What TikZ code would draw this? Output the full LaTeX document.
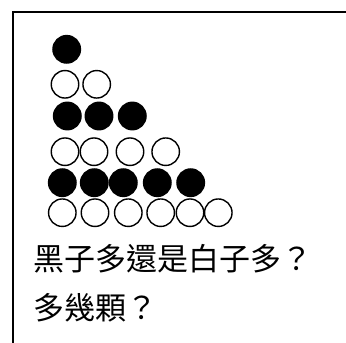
\documentclass[tikz,border=0pt]{standalone}
\usepackage{fontspec}
\newfontfamily\cjk{Noto Sans CJK TC}
\begin{document}
\begin{tikzpicture}[x=1pt,y=-1pt,
  stone/.style={circle,draw=black,line width=1.4pt,minimum size=27.5pt,inner sep=0pt},
  bk/.style={stone,fill=black},
  wh/.style={stone,fill=white},
  txt/.style={anchor=west,inner sep=0pt,font=\cjk\fontsize{31}{31}\selectfont}]
\useasboundingbox (0,0) rectangle (346,343);
\draw[line width=2pt] (13,343) -- (13,12) -- (346,12);
% row 1
\node[bk] (b11) at (66.7,49.3) {};
% row 2
\node[wh] (w21) at (65,84.3) {};
\node[wh] (w22) at (96.7,84.3) {};
% row 3
\node[bk] (b31) at (67.3,116) {};
\node[bk] (b32) at (99,116) {};
\node[bk] (b33) at (132.3,116) {};
% row 4
\node[wh] (w41) at (65,151.7) {};
\node[wh] (w42) at (94,151.7) {};
\node[wh] (w43) at (130,151.7) {};
\node[wh] (w44) at (165.7,151.7) {};
% row 5
\node[bk] (b51) at (62.3,182.7) {};
\node[bk] (b52) at (94.3,182.7) {};
\node[bk] (b53) at (123.3,182.7) {};
\node[bk] (b54) at (157.3,182.7) {};
\node[bk] (b55) at (190.7,182.7) {};
% row 6
\node[wh] (w61) at (62.3,212.7) {};
\node[wh] (w62) at (95,212.7) {};
\node[wh] (w63) at (128.3,212.7) {};
\node[wh] (w64) at (160.7,212.7) {};
\node[wh] (w65) at (190,212.7) {};
\node[wh] (w66) at (218.3,212.7) {};
% text
\node[txt] (t1) at (33,259) {黑子多還是白子多？};
\node[txt] (t2) at (33,308) {多幾顆？};
\end{tikzpicture}
\end{document}
